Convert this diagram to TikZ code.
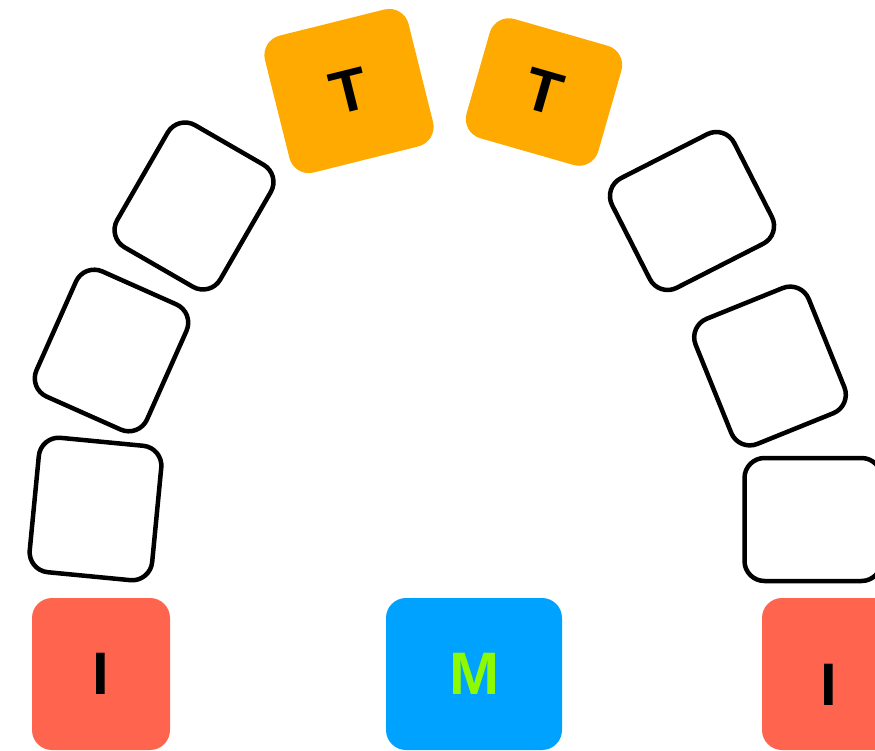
\documentclass[tikz,border=0pt]{standalone}
\usepackage{fontspec}
\setmainfont{Liberation Sans}

\definecolor{tilered}{HTML}{FF644E}
\definecolor{tileorange}{HTML}{FFAA00}
\definecolor{tileblue}{HTML}{00A2FF}
\definecolor{tilegreen}{HTML}{8EFA00}

\tikzset{
    tile/.style={rectangle, rounded corners=20pt, inner sep=0pt,
        font=\bfseries\fontsize{60}{60}\selectfont},
    blank/.style={tile, draw=black, line width=4.5pt, fill=white},
}

\begin{document}
\begin{tikzpicture}[x=1pt,y=-1pt]
    \useasboundingbox (0,0) rectangle (875,751);

    % outlined tiles of the arch
    \foreach \name/\x/\y/\w/\h/\a in {l1/95.5/509/123/135/-5.5, l2/111.5/350.5/121/137/-24,
        l3/194/206/119/141/-30, r3/692/211/137/123/27, r2/770/366/122/135/22, r1/813/519.5/137/123/0}
    \node[blank, minimum width=\w pt, minimum height=\h pt, rotate=\a] (\name) at (\x,\y) {};

    \node[tile, fill=tileorange, minimum width=148pt, minimum height=141pt, rotate=14] (t1) at (349,91) {T};
    \node[tile, fill=tileorange, minimum width=137pt, minimum height=124pt, rotate=-16] (t2) at (544,92) {T};

    \node[tile, fill=tilered, minimum width=138pt, minimum height=152pt] (il) at (101,674) {I};
    \node[tile, fill=tileblue, text=tilegreen, minimum width=176pt, minimum height=152pt] (m) at (474,674) {M};
    \node[tile, fill=tilered, minimum width=138pt, minimum height=152pt,
        label={[font=\bfseries\fontsize{60}{60}\selectfont, yshift=-11pt, xshift=-2pt]center:I}] (ir) at (831,674) {};

\end{tikzpicture}
\end{document}
